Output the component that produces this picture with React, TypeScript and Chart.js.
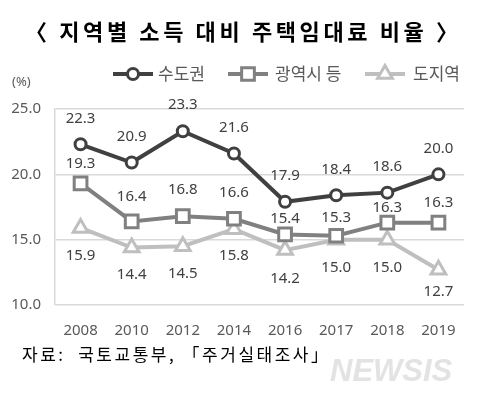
import React, { useEffect, useRef } from "react";
import { Chart, registerables } from "chart.js";

Chart.register(...registerables);

const TITLE = "〈 지역별 소득 대비 주택임대료 비율 〉";
const SOURCE = "자료:  국토교통부, 「주거실태조사」";
const UNIT = "(%)";
const years = ["2008", "2010", "2012", "2014", "2016", "2017", "2018", "2019"];
const seriesNames = ["수도권", "광역시 등", "도지역"];
const capital = [22.3, 20.9, 23.3, 21.6, 17.9, 18.4, 18.6, 20.0];
const metro = [19.3, 16.4, 16.8, 16.6, 15.4, 15.3, 16.3, 16.3];
const province = [15.9, 14.4, 14.5, 15.8, 14.2, 15.0, 15.0, 12.7];
const yTicks = [10, 15, 20, 25];

const COLORS = ["#404040", "#808080", "#bfbfbf"];
const STYLES = ["circle", "rect", "triangle"];
const RADII = [5.5, 9, 8.5];
// label placement (pixel offsets from each marker), a style setting
const LABEL_OFFSETS = [
  [-26, -26, -26, -26, -26, -26, -26, -26],
  [-20, -25, -26, -26, -16, -18, -15, -20],
  [28, 27, 28, 27, 29, 28, 28, 22],
];
const NUM_FONT = "'Noto Sans', 'Noto Sans CJK KR', sans-serif";
const KR_FONT = "'Noto Sans CJK KR', sans-serif";

function marker(ctx: CanvasRenderingContext2D, style: string, r: number, x: number, y: number) {
  ctx.beginPath();
  if (style === "circle") {
    ctx.arc(x, y, r, 0, Math.PI * 2);
  } else if (style === "rect") {
    const s = r * Math.SQRT1_2;
    ctx.rect(x - s, y - s, 2 * s, 2 * s);
  } else {
    const a = Math.PI / 6;
    ctx.moveTo(x, y - r);
    ctx.lineTo(x + Math.cos(a) * r, y + Math.sin(a) * r);
    ctx.lineTo(x - Math.cos(a) * r, y + Math.sin(a) * r);
  }
  ctx.closePath();
}

function fitText(ctx: any, text: string, x: number, y: number, width: number) {
  ctx.letterSpacing = "0px";
  const w = ctx.measureText(text).width;
  const n = Array.from(text).length;
  const sp = Math.max(0, (width - w) / (n - 1));
  ctx.letterSpacing = `${sp}px`;
  ctx.textAlign = "left";
  ctx.fillText(text, x, y);
  ctx.letterSpacing = "0px";
}

const overlay = {
  id: "overlay",
  afterDatasetsDraw(chart: any) {
    const ctx = chart.ctx;
    ctx.save();
    ctx.font = `15px ${NUM_FONT}`;
    ctx.fillStyle = "#404040";
    ctx.textAlign = "center";
    ctx.textBaseline = "middle";
    chart.data.datasets.forEach((ds: any, i: number) => {
      const meta = chart.getDatasetMeta(i);
      meta.data.forEach((pt: any, j: number) => {
        ctx.fillText(Number(ds.data[j]).toFixed(1), pt.x, pt.y + LABEL_OFFSETS[i][j]);
      });
    });
    ctx.restore();
  },
  afterDraw(chart: any) {
    const ctx = chart.ctx;
    ctx.save();
    ctx.fillStyle = "#000000";
    ctx.font = `bold 22px ${KR_FONT}`;
    ctx.textBaseline = "middle";
    fitText(ctx, TITLE, 25, 32, 433);

    ctx.font = `13px ${NUM_FONT}`;
    ctx.fillStyle = "#595959";
    ctx.textAlign = "left";
    ctx.fillText(UNIT, 12, 82);

    const items = [
      { x0: 113, tx: 158 },
      { x0: 228, tx: 275 },
      { x0: 365, tx: 413 },
    ];
    const ly = 74;
    items.forEach((it, i) => {
      ctx.strokeStyle = COLORS[i];
      ctx.lineWidth = 4;
      ctx.beginPath();
      ctx.moveTo(it.x0, ly);
      ctx.lineTo(it.x0 + 40, ly);
      ctx.stroke();
      ctx.fillStyle = "#ffffff";
      ctx.lineWidth = 3;
      marker(ctx, STYLES[i], RADII[i], it.x0 + 20, ly);
      ctx.fill();
      ctx.stroke();
      ctx.fillStyle = "#595959";
      ctx.font = `17px ${KR_FONT}`;
      ctx.textAlign = "left";
      ctx.textBaseline = "middle";
      ctx.fillText(seriesNames[i], it.tx, ly);
    });

    ctx.fillStyle = "#000000";
    ctx.font = `17px ${KR_FONT}`;
    fitText(ctx, SOURCE, 22, 355, 306);

    ctx.font = `italic bold 31px 'Liberation Sans', sans-serif`;
    ctx.fillStyle = "#e3e3e3";
    ctx.textAlign = "left";
    ctx.fillText("NEWSIS", 330, 372);
    ctx.restore();
  },
};

export default function App() {
  const ref = useRef<HTMLCanvasElement>(null);
  useEffect(() => {
    if (!ref.current) return;
    const datasets = [capital, metro, province].map((d, i) => ({
      label: seriesNames[i],
      data: d,
      borderColor: COLORS[i],
      backgroundColor: "#ffffff",
      borderWidth: 4,
      pointStyle: STYLES[i],
      pointRadius: RADII[i],
      pointBorderWidth: 3,
      pointBackgroundColor: "#ffffff",
      pointBorderColor: COLORS[i],
      tension: 0,
    }));
    const chart = new Chart(ref.current, {
      type: "line",
      data: { labels: years, datasets },
      options: {
        animation: false,
        responsive: false,
        devicePixelRatio: 1,
        layout: { padding: { top: 109, right: 14, left: 0, bottom: 0 } },
        plugins: { legend: { display: false }, title: { display: false }, tooltip: { enabled: false } },
        scales: {
          x: {
            offset: true,
            grid: { display: false, drawTicks: false },
            border: { display: false },
            ticks: { color: "#595959", font: { size: 15, family: NUM_FONT }, padding: 17 },
            afterFit: (s: any) => { s.height = 93; },
          },
          y: {
            min: 10,
            max: 25,
            afterBuildTicks: (s: any) => { s.ticks = yTicks.map((v) => ({ value: v })); },
            grid: { color: "#d9d9d9", lineWidth: 1.5, drawTicks: false },
            border: { display: true, color: "#d9d9d9", width: 1.5 },
            ticks: {
              color: "#595959",
              font: { size: 15, family: NUM_FONT },
              padding: 14,
              callback: (v: any) => Number(v).toFixed(1),
            },
            afterFit: (s: any) => { s.width = 55; },
          },
        },
      },
      plugins: [overlay],
    });
    return () => chart.destroy();
  }, []);
  return (
    <div style={{ position: "fixed", left: 0, top: 0, width: 478, height: 398, background: "#ffffff" }}>
      <canvas ref={ref} width={478} height={398} style={{ width: 478, height: 398, display: "block" }} />
    </div>
  );
}
